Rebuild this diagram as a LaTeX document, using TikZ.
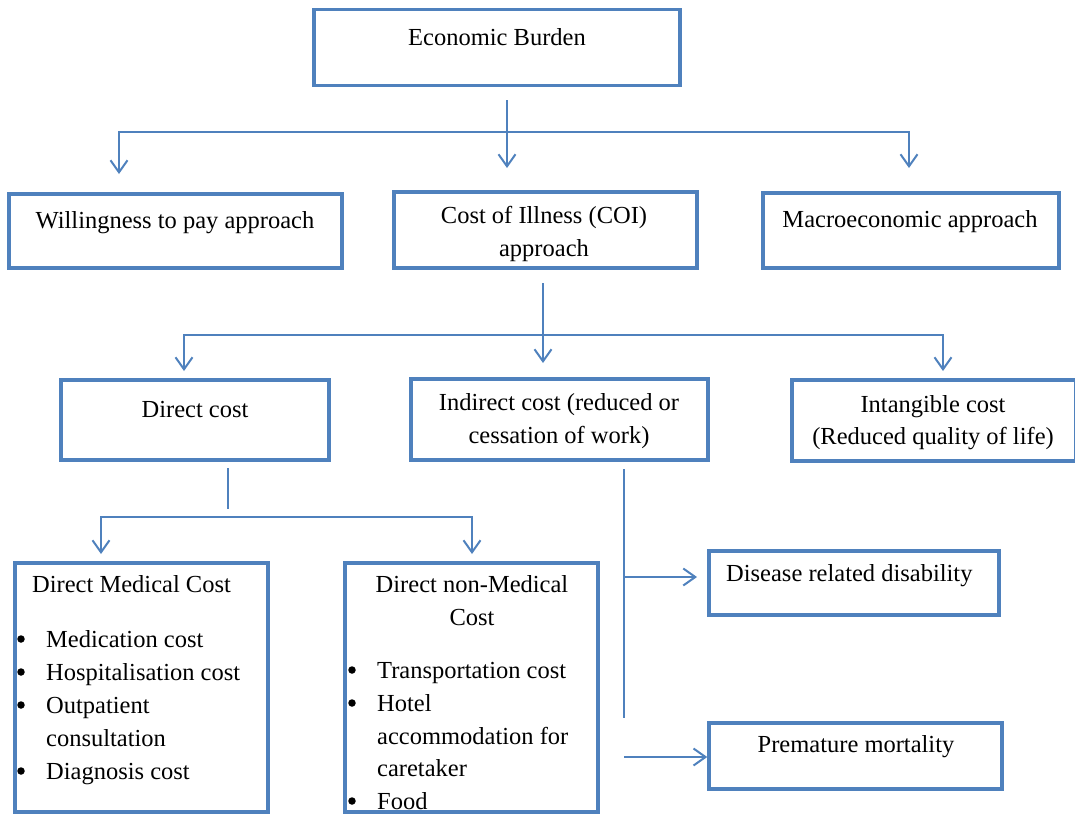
\documentclass[tikz,border=0pt]{standalone}
\usepackage{fontspec}
\setmainfont{Liberation Serif}
\usetikzlibrary{arrows.meta}
\definecolor{boxblue}{HTML}{4F81BD}
\tikzset{
	>={Straight Barb[length=12pt,width=17pt]},
	box/.style={draw=boxblue, line width=3.5pt, inner sep=0pt},
	txt/.style={font=\fontsize{24.5}{33}\selectfont, inner sep=0pt, anchor=base},
	ltxt/.style={txt, anchor=base west},
	dot/.style={circle, fill=black, inner sep=0pt, minimum size=7.5pt},
	link/.style={draw=boxblue, line width=2pt},
}
\begin{document}
\begin{tikzpicture}[x=1pt, y=-1pt]
	\useasboundingbox (0,0) rectangle (1075,815);
	\clip (0,0) rectangle (1075,815);
	% boxes
	\node[box, minimum width=366pt, minimum height=76pt] (burden) at (497,47.5) {};
	\node[box, minimum width=333pt, minimum height=74pt] (willing) at (175.5,231) {};
	\node[box, minimum width=303pt, minimum height=76pt] (coi) at (545.5,230) {};
	\node[box, minimum width=296pt, minimum height=75pt] (macro) at (911,230.5) {};
	\node[box, minimum width=268pt, minimum height=80pt] (direct) at (195,420) {};
	\node[box, minimum width=297pt, minimum height=81pt] (indirect) at (559.5,419.5) {};
	\node[box, minimum width=284pt, minimum height=81pt] (intangible) at (934,420.5) {};
	\node[box, minimum width=253pt, minimum height=249pt] (medical) at (141.5,687.5) {};
	\node[box, minimum width=253pt, minimum height=249pt] (nonmedical) at (471.5,687.5) {};
	\node[box, minimum width=290pt, minimum height=64pt] (disability) at (854,583) {};
	\node[box, minimum width=293pt, minimum height=66pt] (mortality) at (855.5,756) {};
	% texts
	\node[txt] (burdentxt) at (497,45) {Economic Burden};
	\node[txt] (willingtxt) at (175,228) {Willingness to pay approach};
	\node[txt] (coitxta) at (544,223) {Cost of Illness (COI)};
	\node[txt] (coitxtb) at (544,256) {approach};
	\node[txt] (macrotxt) at (910,227) {Macroeconomic approach};
	\node[txt] (directtxt) at (195,417) {Direct cost};
	\node[txt] (indirecttxta) at (559,410) {Indirect cost (reduced or};
	\node[txt] (indirecttxtb) at (559,443) {cessation of work)};
	\node[txt] (intangibletxta) at (933,412) {Intangible cost};
	\node[txt] (intangibletxtb) at (933,444) {(Reduced quality of life)};
	\node[ltxt] (disabilitytxt) at (726,581) {Disease related disability};
	\node[txt] (mortalitytxt) at (856,752) {Premature mortality};
	% direct medical cost
	\node[ltxt] (medicaltxt) at (32,592) {Direct Medical Cost};
	\node[dot] (mbulleta) at (21,639) {};
	\node[ltxt] (mitema) at (46,647) {Medication cost};
	\node[dot] (mbulletb) at (21,672) {};
	\node[ltxt] (mitemb) at (46,680) {Hospitalisation cost};
	\node[dot] (mbulletc) at (21,705) {};
	\node[ltxt] (mitemc) at (46,713) {Outpatient};
	\node[ltxt] (mitemd) at (46,746) {consultation};
	\node[dot] (mbulletd) at (21,771) {};
	\node[ltxt] (miteme) at (46,779) {Diagnosis cost};
	% direct non-medical cost
	\node[txt] (nonmedicaltxta) at (472,592) {Direct non-Medical};
	\node[txt] (nonmedicaltxtb) at (472,625) {Cost};
	\node[dot] (nbulleta) at (352,670) {};
	\node[ltxt] (nitema) at (377,678) {Transportation cost};
	\node[dot] (nbulletb) at (352,703) {};
	\node[ltxt] (nitemb) at (377,711) {Hotel};
	\node[ltxt] (nitemc) at (377,744) {accommodation for};
	\node[ltxt] (nitemd) at (377,776) {caretaker};
	\node[dot] (nbulletc) at (352,801) {};
	\node[ltxt] (niteme) at (377,809) {Food};
	% connectors
	\coordinate (burdenout) at (507,100);
	\coordinate (coiin) at (507,168);
	\coordinate (willingin) at (119,174);
	\coordinate (burdenl) at (119,132);
	\coordinate (burdenr) at (909,132);
	\coordinate (macroin) at (909,168);
	\draw[link, ->] (burdenout) -- (coiin);
	\draw[link, <->] (willingin) -- (burdenl) -- (burdenr) -- (macroin);
	\coordinate (coiout) at (543,283);
	\coordinate (indirectin) at (543,363);
	\coordinate (directin) at (184,371);
	\coordinate (coil) at (184,335);
	\coordinate (coir) at (943,335);
	\coordinate (intangiblein) at (943,371);
	\draw[link, ->] (coiout) -- (indirectin);
	\draw[link, <->] (directin) -- (coil) -- (coir) -- (intangiblein);
	\coordinate (directout) at (228,468);
	\coordinate (directend) at (228,509);
	\coordinate (medicalin) at (101,554);
	\coordinate (directl) at (101,517);
	\coordinate (directr) at (472,517);
	\coordinate (nonmedicalin) at (472,554);
	\draw[link] (directout) -- (directend);
	\draw[link, <->] (medicalin) -- (directl) -- (directr) -- (nonmedicalin);
	\coordinate (indirectout) at (624,469);
	\coordinate (indirectend) at (624,718);
	\coordinate (disabilityfrom) at (624,577);
	\coordinate (disabilityin) at (697,577);
	\coordinate (mortalityfrom) at (624,757);
	\draw[link] (indirectout) -- (indirectend);
	\draw[link, ->] (disabilityfrom) -- (disabilityin);
	\draw[link, ->] (mortalityfrom) -- (mortality.west |- mortalityfrom);
\end{tikzpicture}
\end{document}
